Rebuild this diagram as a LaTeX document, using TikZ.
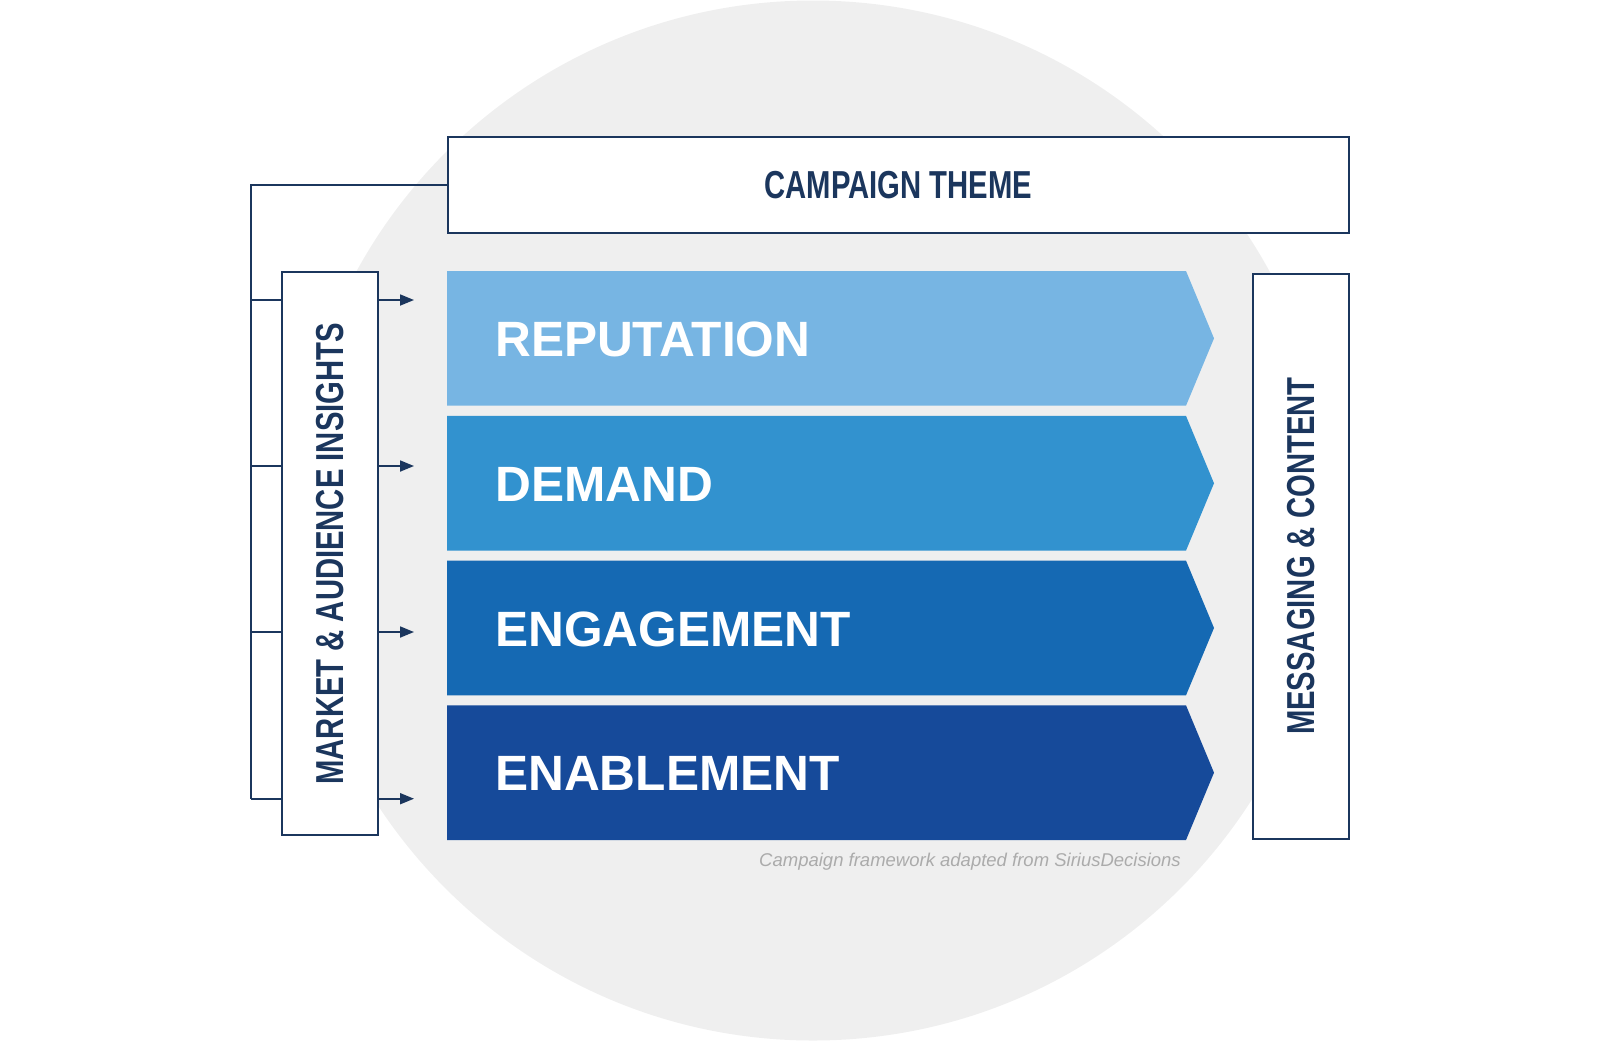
\documentclass[tikz,border=0pt]{standalone}
\usepackage{fontspec}
\setmainfont{Liberation Sans}
\newfontfamily\condfont[FakeStretch=0.75]{Liberation Sans}
\usepackage{tikz}
\usepackage{xcolor}
\usetikzlibrary{arrows.meta, positioning}
\definecolor{navy}{HTML}{1B365D}
\definecolor{circlegray}{HTML}{EFEFEF}
\definecolor{notegray}{HTML}{ABABAB}
\definecolor{reputation}{HTML}{77B5E3}
\definecolor{demand}{HTML}{3292CF}
\definecolor{engagement}{HTML}{1569B3}
\definecolor{enablement}{HTML}{164A9A}
\tikzstyle{labelbox} = [draw=navy, line width=1.8pt, fill=white, inner sep=0pt,
text=navy, font=\condfont\bfseries\fontsize{39}{39}\selectfont]
\tikzstyle{sidetext} = [text=navy, font=\condfont\bfseries\fontsize{39}{39}\selectfont, rotate=90]
\tikzstyle{bandtext} = [text=white, font=\bfseries\fontsize{49.6}{49.6}\selectfont, anchor=west, inner sep=0pt]
\tikzstyle{treeline} = [draw=navy, line width=1.8pt]
\tikzstyle{feedarrow} = [draw=navy, line width=1.8pt, -{Triangle[length=14pt,width=11pt]}]

\begin{document}
\begin{tikzpicture}[x=1pt, y=-1pt]
        \useasboundingbox (0,0) rectangle (1600,1042);
        % background circle
        \fill[circlegray] (813,520.5) circle (520pt);

        % funnel bands
        \foreach \name/\label/\col/\top in {rep/REPUTATION/reputation/271, dem/DEMAND/demand/415.9, eng/ENGAGEMENT/engagement/560.6, ena/ENABLEMENT/enablement/705.3}{
            \fill[\col] (447,\top) -- (1186,\top) -- (1214,\top+67.35) -- (1186,\top+134.7) -- (447,\top+134.7) -- cycle;
            \node[bandtext] (\name) at (495,\top+68.5) {\label};
        }

        % boxes
        \node[labelbox, minimum width=901pt, minimum height=96pt] (theme) at (898.5,185) {CAMPAIGN THEME};
        \node[labelbox, minimum width=96pt, minimum height=563pt] (insights) at (330,553.8) {};
        \node[sidetext] (insightstext) at (insights) {MARKET \& AUDIENCE INSIGHTS};
        \node[labelbox, minimum width=96pt, minimum height=565pt] (messaging) at (1300.9,556.2) {};
        \node[sidetext] (messagingtext) at (messaging) {MESSAGING \& CONTENT};

        % tree and arrows
        \coordinate (trunk) at (251,798.7);
        \draw[treeline] (theme.west) -| (trunk);
        \foreach \i/\y in {1/300, 2/466, 3/632, 4/798.7}{
            \coordinate (branch\i) at (251,\y);
            \coordinate (tip\i) at (414,\y);
            \draw[treeline] (branch\i) -- (branch\i -| insights.west);
            \draw[feedarrow] (branch\i -| insights.east) -- (tip\i);
        }

        \node[anchor=base east, text=notegray, font=\itshape\fontsize{18.5}{18.5}\selectfont, inner sep=0pt] (credit) at (1181,866.7) {Campaign framework adapted from SiriusDecisions};
    \end{tikzpicture}
\end{document}
